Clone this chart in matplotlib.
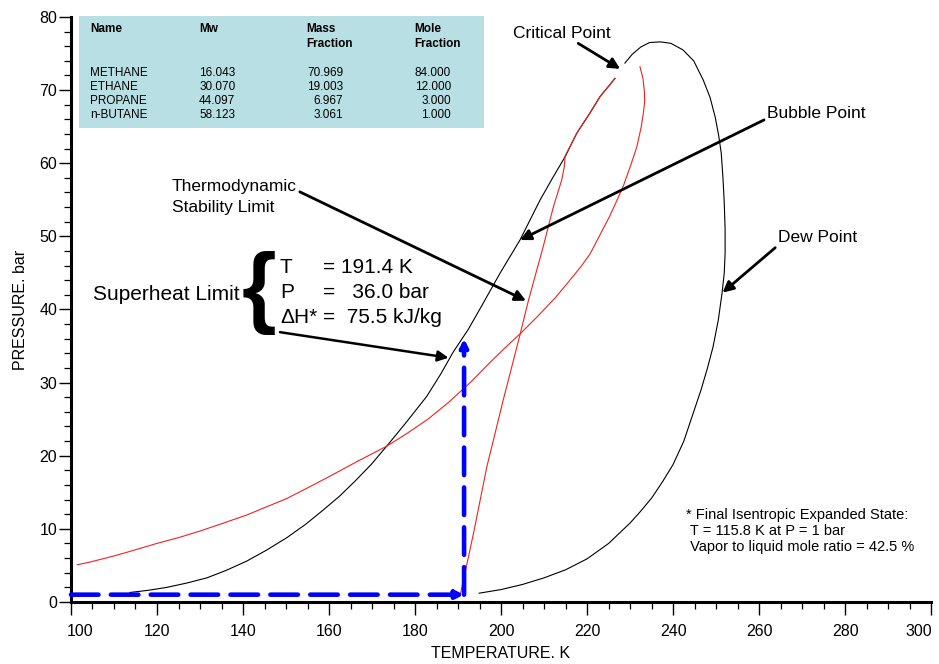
import matplotlib
matplotlib.use("Agg")
import matplotlib.pyplot as plt
from matplotlib.patches import Rectangle
from matplotlib.ticker import MultipleLocator, FuncFormatter

plt.rcParams["font.family"] = ["Liberation Sans", "DejaVu Sans"]

# phase envelope (black): bubble branch up to the critical point, dew branch back down
bubble_T = [113.7, 118.0, 122.3, 127.0, 131.6, 136.0, 140.9, 145.5, 150.2, 154.5,
            158.7, 162.5, 166.0, 169.8, 173.4, 178.0, 182.7, 186.0, 188.9, 192.4,
            195.5, 199.8, 204.4, 209.1, 212.0, 214.9, 217.6, 220.7, 223.0, 226.5]
bubble_P = [1.3, 1.6, 2.0, 2.6, 3.3, 4.3, 5.6, 7.1, 8.8, 10.6,
            12.6, 14.5, 16.5, 18.8, 21.3, 24.6, 28.1, 31.2, 34.2, 37.3,
            40.5, 45.0, 49.5, 55.0, 58.0, 60.9, 64.1, 66.9, 69.1, 71.6]
dew_T = [228.8, 230.5, 232.5, 234.5, 237.0, 239.5, 242.3, 244.8, 247.0, 248.6,
         249.8, 250.6, 251.2, 251.6, 251.9, 252.1, 252.1, 251.9, 251.4, 250.5,
         249.3, 248.0, 246.5, 244.5, 242.5, 240.0, 237.5, 235.0, 232.3, 230.0,
         225.0, 220.0, 215.0, 210.0, 205.0, 200.0, 194.9]
dew_P = [73.7, 74.9, 75.9, 76.5, 76.6, 76.4, 75.5, 74.0, 71.4, 69.0,
         66.3, 63.8, 61.4, 58.0, 54.6, 51.0, 47.7, 45.0, 42.3, 38.5,
         34.9, 32.0, 29.0, 25.5, 22.0, 18.8, 16.4, 14.2, 12.3, 10.8,
         8.0, 5.9, 4.4, 3.3, 2.4, 1.7, 1.2]

# red limit curves
limit_T = [101.5, 104.0, 106.7, 110.0, 113.0, 116.5, 119.9, 125.0, 130.0, 135.5,
           140.9, 145.0, 150.0, 155.0, 160.2, 166.5, 173.4, 178.0, 183.0, 188.0,
           193.0, 197.5, 201.0, 204.3, 208.4, 212.6, 216.0, 218.5, 220.7, 223.0,
           225.3, 227.0, 228.5, 230.2, 231.6, 232.6, 233.1, 233.4, 233.3, 233.0,
           232.3]
limit_P = [5.1, 5.4, 5.8, 6.3, 6.8, 7.4, 8.0, 8.8, 9.7, 10.8,
           11.9, 12.9, 14.1, 15.6, 17.2, 19.2, 21.3, 23.0, 25.0, 27.4,
           30.1, 32.8, 34.8, 36.6, 39.0, 41.6, 44.0, 45.8, 47.6, 50.2,
           52.8, 55.0, 57.0, 59.8, 62.3, 65.0, 66.9, 68.5, 70.0, 71.6,
           73.2]
stab_T = [190.6, 193.6, 196.7, 200.5, 204.3, 206.4, 209.8, 212.2, 214.1, 214.7,
          214.9, 217.6, 220.7, 223.0, 226.5]
stab_P = [1.2, 9.4, 18.5, 27.6, 36.3, 41.3, 48.6, 54.1, 57.7, 59.5,
          61.0, 64.1, 66.9, 69.1, 71.6]

# superheat limit state and final expanded pressure
sh_T, sh_P = 191.4, 36.0
final_P = 1.0

names = ["METHANE", "ETHANE", "PROPANE", "n-BUTANE"]
mw = ["16.043", "30.070", "44.097", "58.123"]
mass_frac = ["70.969", "19.003", "6.967", "3.061"]
mole_frac = ["84.000", "12.000", "3.000", "1.000"]

T_MIN, T_MAX = 100, 300

fig = plt.figure(figsize=(9.39, 6.64), dpi=100)
ax = fig.add_axes([0.0756, 0.0934, 0.916, 0.881])

ax.plot(bubble_T, bubble_P, color="black", lw=0.8)
ax.plot(dew_T, dew_P, color="black", lw=0.8)
ax.plot(limit_T, limit_P, color="#ee2222", lw=0.8)
ax.plot(stab_T, stab_P, color="#ee2222", lw=0.8)

# isentropic expansion path
blue = dict(arrowstyle="-|>", color="#0000ff", lw=3.3, linestyle=(0, (6, 2.7)),
            mutation_scale=11, shrinkA=0, shrinkB=0)
ax.annotate("", xy=(sh_T, final_P), xytext=(T_MIN, final_P), arrowprops=blue)
ax.annotate("", xy=(sh_T, sh_P), xytext=(sh_T, final_P), arrowprops=blue)

ax.set_xlim(T_MIN, T_MAX)
ax.set_ylim(0, 80)
ax.xaxis.set_major_locator(MultipleLocator(20))
ax.xaxis.set_minor_locator(MultipleLocator(5))
ax.yaxis.set_major_locator(MultipleLocator(10))
ax.yaxis.set_minor_locator(MultipleLocator(2))
# end labels are drawn separately so they sit inside the frame
ax.xaxis.set_major_formatter(FuncFormatter(
    lambda v, pos: "" if v in (T_MIN, T_MAX) else f"{v:.0f}"))
for s in ["top", "right"]:
    ax.spines[s].set_visible(False)
for s in ["left", "bottom"]:
    ax.spines[s].set_linewidth(2.2)
ax.tick_params(which="major", length=9, width=1.0, labelsize=11.5, pad=7)
ax.tick_params(which="minor", length=5, width=0.9)
ax.tick_params(axis="y", which="major", pad=1)
ax.annotate(str(T_MIN), xy=(T_MIN, 0), xycoords=("data", "axes fraction"),
            xytext=(-3, -16), textcoords="offset points", ha="left", va="top",
            fontsize=11.5)
ax.annotate(str(T_MAX), xy=(T_MAX, 0), xycoords=("data", "axes fraction"),
            xytext=(1, -16), textcoords="offset points", ha="right", va="top",
            fontsize=11.5)
ax.set_xlabel("TEMPERATURE. K", fontsize=11.5, labelpad=5)
ax.set_ylabel("PRESSURE. bar", fontsize=11.5, labelpad=8)

# component table
ax.add_patch(Rectangle((101.9, 64.8), 94.1, 15.4, facecolor="#b8dfe3",
                       edgecolor="none", clip_on=False, zorder=1))
tkw = dict(fontsize=8.5, va="center", zorder=3)
ax.text(104.4, 78.4, "Name", fontweight="bold", **tkw)
ax.text(129.8, 78.4, "Mw", fontweight="bold", **tkw)
ax.text(154.7, 77.35, "Mass\nFraction", fontweight="bold", linespacing=1.35, **tkw)
ax.text(179.8, 77.35, "Mole\nFraction", fontweight="bold", linespacing=1.35, **tkw)
row_P = [72.4, 70.45, 68.5, 66.55]
for i in range(len(names)):
    ax.text(104.4, row_P[i], names[i], **tkw)
    ax.text(129.8, row_P[i], mw[i], **tkw)
    ax.text(163.3, row_P[i], mass_frac[i], ha="right", **tkw)
    ax.text(188.4, row_P[i], mole_frac[i], ha="right", **tkw)

arrow = dict(arrowstyle="-|>", color="black", lw=2.0, mutation_scale=16,
             shrinkA=0, shrinkB=0)
ax.annotate("Critical Point", xy=(227.7, 72.9), xytext=(202.8, 77.8),
            fontsize=12.5, va="center", ha="left",
            arrowprops=dict(arrow, relpos=(0.62, 0.0)))
ax.annotate("Bubble Point", xy=(204.4, 49.5), xytext=(261.8, 66.8),
            fontsize=12.5, va="center", ha="left",
            arrowprops=dict(arrow, relpos=(-0.02, 0.1)))
ax.annotate("Dew Point", xy=(251.5, 42.3), xytext=(264.4, 49.8),
            fontsize=12.5, va="center", ha="left",
            arrowprops=dict(arrow, relpos=(0.0, 0.0)))
ax.annotate("Thermodynamic\nStability Limit", xy=(205.8, 41.2), xytext=(123.5, 55.4),
            fontsize=12.5, va="center", ha="left", linespacing=1.45,
            arrowprops=dict(arrow, relpos=(1.0, 0.68)))

# superheat limit block
ax.text(105.1, 42.1, "Superheat Limit", fontsize=15, va="center", ha="left")
ax.text(143.6, 42.3, "{", fontsize=64, va="center", ha="center", fontweight="bold")
ax.text(148.6, 45.7, "T", fontsize=15, va="center")
ax.text(148.6, 42.3, "P", fontsize=15, va="center")
ax.text(148.6, 38.9, "\u0394H*", fontsize=15, va="center")
ax.text(158.5, 45.7, "= 191.4 K", fontsize=15, va="center")
ax.text(158.5, 42.3, "=   36.0 bar", fontsize=15, va="center")
ax.text(158.5, 38.9, "=  75.5 kJ/kg", fontsize=15, va="center")
ax.annotate("", xy=(187.8, 33.4), xytext=(148.6, 36.9),
            arrowprops=dict(arrow, lw=1.8))

ax.text(243.0, 12.9, "* Final Isentropic Expanded State:\n"
        " T = 115.8 K at P = 1 bar\n"
        " Vapor to liquid mole ratio = 42.5 %",
        fontsize=10.5, va="top", ha="left", linespacing=1.22)

fig.savefig("out.png", dpi=100)
